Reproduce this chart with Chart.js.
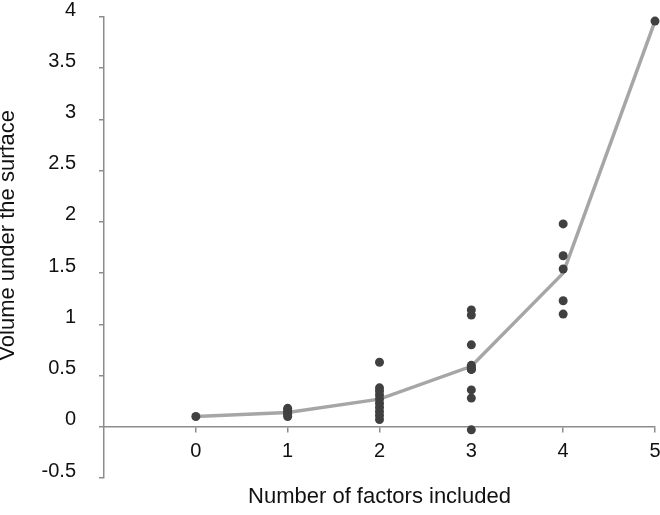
<!DOCTYPE html>
<html>
<head>
<meta charset="utf-8">
<script src="https://cdn.jsdelivr.net/npm/chart.js@4.4.1/dist/chart.umd.min.js"></script>
<style>
  html, body { margin: 0; padding: 0; background: #fff; }
  #wrap { width: 660px; height: 515px; }
</style>
</head>
<body>
<div id="wrap"><canvas id="myChart"></canvas></div>
<script>
// number of factors for each scatter point, and its volume
var pointX = [0,
    1, 1, 1, 1, 1,
    2, 2, 2, 2, 2, 2, 2, 2, 2, 2,
    3, 3, 3, 3, 3, 3, 3, 3, 3, 3,
    4, 4, 4, 4, 4,
    5];
var pointY = [0.10,
    0.18, 0.16, 0.14, 0.12, 0.10,
    0.63, 0.38, 0.35, 0.31, 0.27, 0.23, 0.19, 0.15, 0.11, 0.07,
    1.14, 1.09, 0.80, 0.60, 0.58, 0.56, 0.56, 0.36, 0.28, -0.03,
    1.98, 1.67, 1.54, 1.23, 1.10,
    3.96];

// mean line
var meanX = [0, 1, 2, 3, 4, 5];
var meanY = [0.10, 0.14, 0.27, 0.59, 1.50, 3.96];

var xTicks = [0, 1, 2, 3, 4, 5];

var axisGray = "#8c8c8c";
var textCol = "#111111";
var fontName = "'Liberation Sans', Arial, sans-serif";

var points = pointX.map(function (x, i) { return { x: x, y: pointY[i] }; });
var means = meanX.map(function (x, i) { return { x: x, y: meanY[i] }; });

// label padding is handled by layout.padding, not by the scales
function noScalePadding(scale) {
    scale.paddingTop = 0;
    scale.paddingBottom = 0;
    scale.paddingLeft = 0;
    scale.paddingRight = 0;
}

new Chart("myChart", {
    type: "scatter",
    data: {
        datasets: [{
            data: points,
            backgroundColor: "#404040",
            borderColor: "#404040",
            pointRadius: 4.5,
            pointHoverRadius: 4.5,
            borderWidth: 0,
            clip: false,
            xAxisID: "x",
            yAxisID: "y",
            order: 0
        }, {
            data: means,
            showLine: true,
            borderColor: "#a6a6a6",
            borderWidth: 3.5,
            pointRadius: 0,
            tension: 0,
            clip: false,
            xAxisID: "x",
            yAxisID: "y",
            order: 1
        }]
    },
    options: {
        responsive: true,
        maintainAspectRatio: false,
        animation: false,
        layout: { padding: { left: 0, right: 5, top: 17, bottom: 0 } },
        plugins: {
            legend: { display: false },
            tooltip: { enabled: false }
        },
        scales: {
            x: {
                type: "linear",
                position: { y: 0 },
                min: -1,
                max: 5,
                afterBuildTicks: function (scale) {
                    scale.ticks = xTicks.map(function (v) { return { value: v }; });
                },
                afterFit: noScalePadding,
                grid: { drawOnChartArea: false, drawTicks: true, tickLength: 5, color: axisGray, lineWidth: 1.5 },
                border: { color: axisGray, width: 1.5 },
                ticks: {
                    padding: 8,
                    color: textCol,
                    font: { family: fontName, size: 20 },
                    maxRotation: 0,
                    callback: function (v) { return String(v); }
                }
            },
            x2: {
                type: "linear",
                position: "bottom",
                min: -1,
                max: 5,
                afterFit: function (scale) { scale.height = 37; noScalePadding(scale); },
                grid: { display: false },
                border: { display: false },
                ticks: { display: false },
                title: {
                    display: true,
                    text: "Number of factors included",
                    color: textCol,
                    font: { family: fontName, size: 22, lineHeight: 1 },
                    padding: { top: 0, bottom: 7 }
                }
            },
            y: {
                type: "linear",
                position: "left",
                min: -0.5,
                max: 4,
                afterFit: function (scale) { scale.width = 104; noScalePadding(scale); },
                grid: { drawOnChartArea: false, drawTicks: true, tickLength: 5, color: axisGray, lineWidth: 1.5 },
                border: { color: axisGray, width: 1.5 },
                ticks: {
                    stepSize: 0.5,
                    padding: 23,
                    labelOffset: -7,
                    color: textCol,
                    font: { family: fontName, size: 20 },
                    callback: function (v) { return String(v); }
                },
                title: {
                    display: true,
                    // leading spaces nudge the centred title up a little, as in the original
                    text: "    Volume under the surface",
                    color: textCol,
                    font: { family: fontName, size: 22, lineHeight: 0.75 },
                    padding: 0
                }
            }
        }
    }
});
</script>
</body>
</html>
